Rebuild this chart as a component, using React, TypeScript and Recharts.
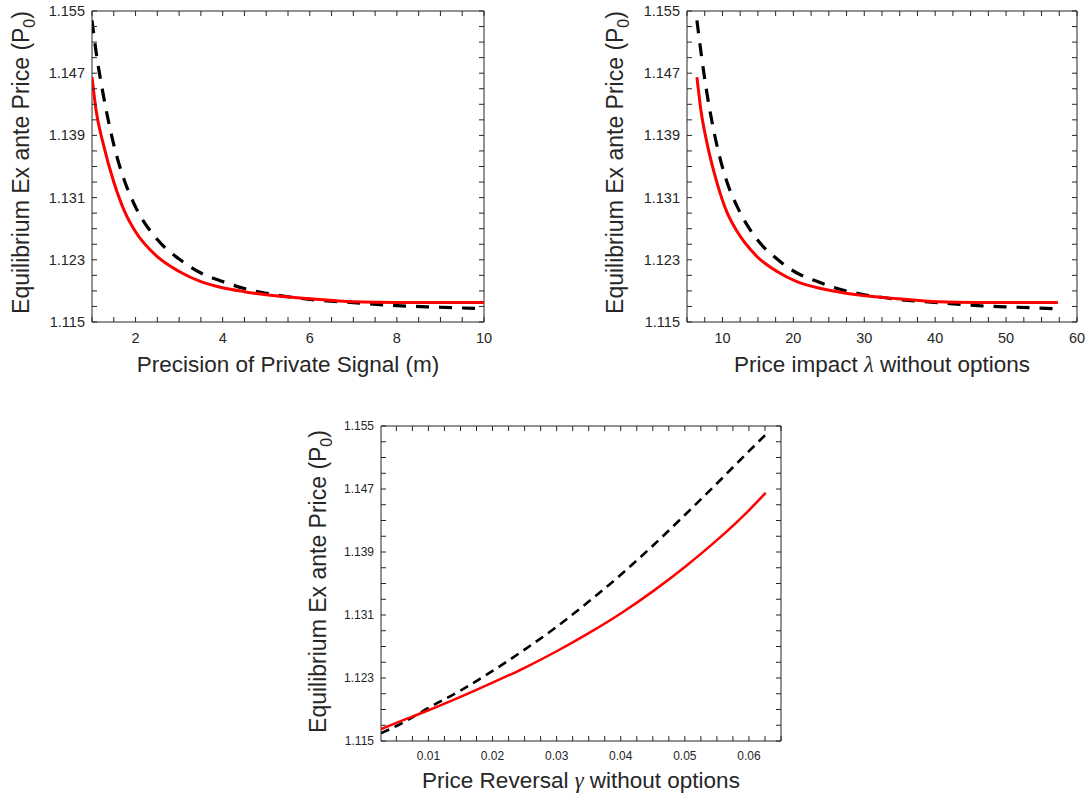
import React from "react";
import { LineChart, Line, XAxis, YAxis, ReferenceArea } from "recharts";

// precision of private signal (m) and the matching price impact lambda
const precisionM = [1, 1.1, 1.25, 1.5, 1.75, 2, 2.5, 3, 3.5, 4, 4.5, 5, 6, 7, 8, 9, 10];
const priceImpactLambda = [6.4, 7.0, 7.8, 9.2, 10.6, 12.1, 14.9, 17.7, 20.5, 23.4, 26.2, 29.0, 34.7, 40.3, 46.0, 51.6, 57.3];
const priceSolid = [1.1465, 1.142, 1.1381, 1.133, 1.1292, 1.1266, 1.1234, 1.1215, 1.1202, 1.1194, 1.1189, 1.1185, 1.118, 1.1176, 1.1175, 1.1175, 1.1175];
const priceDashed = [1.1538, 1.1495, 1.1445, 1.1378, 1.1331, 1.1298, 1.1256, 1.1231, 1.1213, 1.1202, 1.1193, 1.1187, 1.1179, 1.1175, 1.1171, 1.1169, 1.1167];

// price reversal gamma
const reversalGamma = [0.0026, 0.005, 0.0075, 0.01, 0.015, 0.02, 0.025, 0.03, 0.035, 0.04, 0.045, 0.05, 0.055, 0.06, 0.0626];
const gammaSolid = [1.1165, 1.1173, 1.1181, 1.1189, 1.1206, 1.1224, 1.1243, 1.1264, 1.1287, 1.1312, 1.134, 1.1371, 1.1405, 1.1443, 1.1465];
const gammaDashed = [1.116, 1.1169, 1.118, 1.1192, 1.1214, 1.1239, 1.1266, 1.1295, 1.1327, 1.1361, 1.1398, 1.1437, 1.1477, 1.1518, 1.1539];

// ticks
const yTicks = [1.115, 1.117, 1.119, 1.121, 1.123, 1.125, 1.127, 1.129, 1.131, 1.133, 1.135, 1.137, 1.139, 1.141, 1.143, 1.145, 1.147, 1.149, 1.151, 1.153, 1.155];
const yTickLabels = [1.115, 1.123, 1.131, 1.139, 1.147, 1.155];
const mTicks = [1, 1.5, 2, 2.5, 3, 3.5, 4, 4.5, 5, 5.5, 6, 6.5, 7, 7.5, 8, 8.5, 9, 9.5, 10];
const mTickLabels = [2, 4, 6, 8, 10];
const lambdaTicks = [5, 7.5, 10, 12.5, 15, 17.5, 20, 22.5, 25, 27.5, 30, 32.5, 35, 37.5, 40, 42.5, 45, 47.5, 50, 52.5, 55, 57.5, 60];
const lambdaTickLabels = [10, 20, 30, 40, 50, 60];
const gammaTicks = [0.005, 0.0075, 0.01, 0.0125, 0.015, 0.0175, 0.02, 0.0225, 0.025, 0.0275, 0.03, 0.0325, 0.035, 0.0375, 0.04, 0.0425, 0.045, 0.0475, 0.05, 0.0525, 0.055, 0.0575, 0.06, 0.0625, 0.065];
const gammaTickLabels = [0.01, 0.02, 0.03, 0.04, 0.05, 0.06];

const INK = "#262626";
const FONT = "'Liberation Sans', Arial, Helvetica, sans-serif";
const TICK = 5;

const hasLabel = (list: number[], v: number) => list.some((l) => Math.abs(l - v) < 1e-9);

interface PanelProps {
  left: number;
  top: number;
  width: number;
  height: number;
  marginTop: number;
  marginRight: number;
  yAxisWidth: number;
  xAxisHeight: number;
  xs: number[];
  solid: number[];
  dashed: number[];
  xDomain: [number, number];
  xTicks: number[];
  xTickLabels: number[];
  xDigits: number;
  tickFont: number;
  xTickDy: number;
  xLabel: React.ReactNode;
  xLabelDy: number;
  yLabelDx: number;
  yLabelShift: number;
  solidWidth: number;
  dashedWidth: number;
  dash: string;
}

function Panel(p: PanelProps) {
  const plotW = p.width - p.marginRight - p.yAxisWidth;
  const plotH = p.height - p.marginTop - p.xAxisHeight;
  const data = p.xs.map((x, i) => ({ x, solid: p.solid[i], dashed: p.dashed[i] }));

  const xTick = (props: any) => {
    const { x, y, payload } = props;
    const v = payload.value;
    return (
      <g>
        <line x1={x} y1={y} x2={x} y2={y - TICK} stroke={INK} />
        <line x1={x} y1={y - plotH} x2={x} y2={y - plotH + TICK} stroke={INK} />
        {hasLabel(p.xTickLabels, v) && (
          <text x={x} y={y + p.xTickDy} textAnchor="middle" dominantBaseline="central"
            fontSize={p.tickFont} fontFamily={FONT} fill={INK}>
            {p.xDigits > 0 ? v.toFixed(p.xDigits) : String(v)}
          </text>
        )}
      </g>
    );
  };

  const yTick = (props: any) => {
    const { x, y, payload } = props;
    const v = payload.value;
    return (
      <g>
        <line x1={x} y1={y} x2={x + TICK} y2={y} stroke={INK} />
        <line x1={x + plotW} y1={y} x2={x + plotW - TICK} y2={y} stroke={INK} />
        {hasLabel(yTickLabels, v) && (
          <text x={x - 7} y={y} textAnchor="end" dominantBaseline="central"
            fontSize={p.tickFont} fontFamily={FONT} fill={INK}>
            {v.toFixed(3)}
          </text>
        )}
      </g>
    );
  };

  const xLabel = (props: any) => {
    const vb = props.viewBox;
    return (
      <text x={vb.x + vb.width / 2} y={vb.y + p.xLabelDy} textAnchor="middle"
        fontSize={22.5} fontFamily={FONT} fill={INK}>
        {p.xLabel}
      </text>
    );
  };

  const yLabel = (props: any) => {
    const vb = props.viewBox;
    const bx = vb.x + vb.width - p.yLabelDx;
    const cy = vb.y + vb.height / 2 + p.yLabelShift;
    return (
      <text x={bx} y={cy} transform={`rotate(-90 ${bx} ${cy})`} textAnchor="middle"
        fontSize={23} fontFamily={FONT} fill={INK}>
        Equilibrium Ex ante Price (P
        <tspan dy={6} fontSize={16}>0</tspan>
        <tspan dy={-6}>)</tspan>
      </text>
    );
  };

  return (
    <div style={{ position: "absolute", left: p.left, top: p.top }}>
      <LineChart width={p.width} height={p.height} data={data}
        margin={{ top: p.marginTop, right: p.marginRight, bottom: 0, left: 0 }}>
        <XAxis dataKey="x" type="number" domain={p.xDomain} allowDataOverflow
          ticks={p.xTicks} interval={0} height={p.xAxisHeight}
          axisLine={false} tickLine={false} tickSize={0} tickMargin={0}
          tick={xTick} label={xLabel} />
        <YAxis type="number" domain={[1.115, 1.155]} allowDataOverflow
          ticks={yTicks} interval={0} width={p.yAxisWidth}
          axisLine={false} tickLine={false} tickSize={0} tickMargin={0}
          tick={yTick} label={yLabel} />
        <ReferenceArea x1={p.xDomain[0]} x2={p.xDomain[1]} y1={1.115} y2={1.155}
          fill="none" stroke={INK} strokeWidth={1} />
        <Line type="monotone" dataKey="dashed" stroke="#000000" strokeWidth={p.dashedWidth}
          strokeDasharray={p.dash} dot={false} isAnimationActive={false} />
        <Line type="monotone" dataKey="solid" stroke="#ff0000" strokeWidth={p.solidWidth}
          dot={false} isAnimationActive={false} />
      </LineChart>
    </div>
  );
}

const greek = { fontFamily: "'Liberation Serif', 'DejaVu Serif', serif", fontStyle: "italic" as const };

export default function App() {
  return (
    <div style={{ position: "absolute", left: 0, top: 0, width: 1091, height: 798, background: "#fff" }}>
      <Panel left={0} top={0} width={500} height={390} marginTop={11} marginRight={16}
        yAxisWidth={92} xAxisHeight={68} xs={precisionM} solid={priceSolid} dashed={priceDashed}
        xDomain={[1, 10]} xTicks={mTicks} xTickLabels={mTickLabels} xDigits={0}
        tickFont={14.5} xTickDy={16} xLabel="Precision of Private Signal (m)" xLabelDy={50}
        yLabelDx={63.5} yLabelShift={-4} solidWidth={3} dashedWidth={3.2} dash="13 10" />
      <Panel left={595} top={0} width={496} height={390} marginTop={11} marginRight={14}
        yAxisWidth={92} xAxisHeight={68} xs={priceImpactLambda} solid={priceSolid} dashed={priceDashed}
        xDomain={[5, 60]} xTicks={lambdaTicks} xTickLabels={lambdaTickLabels} xDigits={0}
        tickFont={14.5} xTickDy={16}
        xLabel={<>Price impact <tspan {...greek}>λ</tspan> without options</>} xLabelDy={50}
        yLabelDx={64} yLabelShift={-4} solidWidth={3} dashedWidth={3.2} dash="13 10" />
      <Panel left={290} top={400} width={510} height={398} marginTop={26} marginRight={19}
        yAxisWidth={91} xAxisHeight={57} xs={reversalGamma} solid={gammaSolid} dashed={gammaDashed}
        xDomain={[0.0026, 0.065]} xTicks={gammaTicks} xTickLabels={gammaTickLabels} xDigits={2}
        tickFont={12} xTickDy={15}
        xLabel={<>Price Reversal <tspan {...greek}>γ</tspan> without options</>} xLabelDy={47}
        yLabelDx={55} yLabelShift={-2} solidWidth={2.5} dashedWidth={2.6} dash="9 6" />
    </div>
  );
}
